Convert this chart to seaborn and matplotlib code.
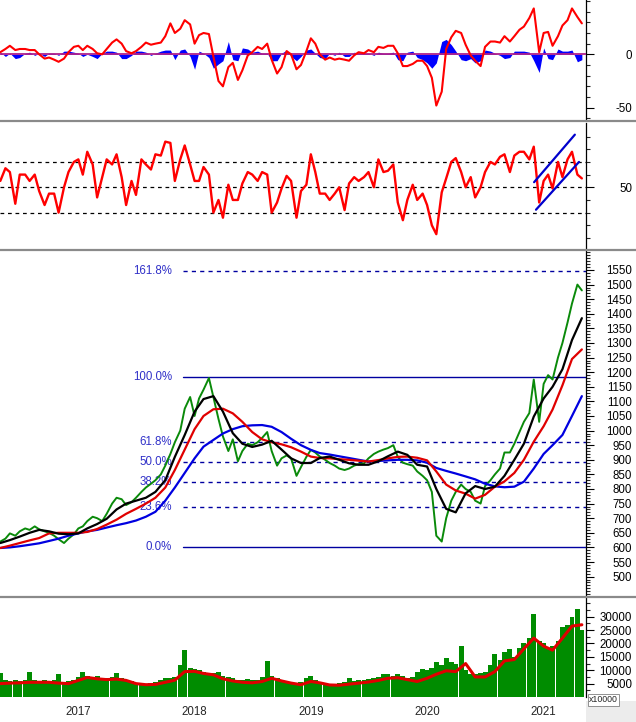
import numpy as np
import pandas as pd
import matplotlib
matplotlib.use('Agg')
import matplotlib.pyplot as plt
import matplotlib.dates as mdates
from matplotlib.ticker import FixedLocator, MultipleLocator, StrMethodFormatter
from matplotlib.lines import Line2D
from matplotlib.patches import Rectangle
from matplotlib.transforms import blended_transform_factory
import seaborn as sns

sns.set_style('white')
plt.rcParams['font.family'] = ['Liberation Sans', 'DejaVu Sans']
plt.rcParams['axes.unicode_minus'] = False

# ---------------- data ----------------
dates = pd.date_range('2016-06-15', '2021-06-15', freq='SMS')   # semi-monthly samples
mdates_ = dates[::2]                                             # monthly samples

close = [620,630,648,640,655,665,660,672,662,655,
         650,640,628,615,630,645,665,672,690,705,
         700,690,715,750,770,765,745,755,770,790,
         805,818,830,850,880,920,960,1000,1075,1115,
         1050,1110,1140,1180,1115,1040,980,930,970,895,
         930,955,950,960,975,995,930,880,905,915,
         905,845,875,910,934,925,911,900,889,880,
         870,865,870,880,885,888,905,920,928,935,
         940,950,910,890,885,880,860,845,830,790,
         640,620,700,760,790,815,800,790,760,750,
         810,830,850,870,925,925,955,995,1030,1060,
         1175,1030,1160,1190,1175,1250,1300,1370,1435,1500,
         1480]

ma_black = [615,625,637,650,660,655,647,645,648,665,
            680,698,730,750,760,770,790,830,910,985,
            1065,1108,1118,1065,991,955,944,952,965,935,
            905,889,889,906,911,900,888,883,883,895,
            912,928,917,883,877,800,732,720,785,810,
            800,808,845,900,955,1048,1110,1150,1210,1310,
            1385]

ma_red = [598,606,615,624,632,648,650,650,650,653,
          663,678,695,715,732,750,770,805,865,935,
          1005,1050,1073,1075,1059,1030,995,970,960,953,
          943,928,911,906,905,902,900,897,894,899,
          905,910,911,907,898,860,815,795,784,767,
          780,808,826,855,900,962,1015,1072,1155,1245,
          1278]

ma_blue = [598,600,604,609,614,622,630,640,648,655,
           660,668,676,683,692,705,722,760,805,855,
           905,945,968,990,1005,1015,1018,1019,1013,995,
           972,950,934,923,918,912,906,900,894,896,
           898,900,900,898,890,872,862,853,843,833,
           818,809,806,808,825,870,920,950,985,1050,
           1118]

macd = [2,5,8,4,5,5,4,4,0,-4,
        -3,-5,-7,-4,2,7,8,4,8,5,
        1,0,5,11,14,10,3,1,3,7,
        11,9,10,11,17,29,20,24,32,28,
        10,18,20,19,-2,-25,-30,-12,-8,-24,
        -15,-1,2,7,5,10,-5,-18,-12,3,
        0,-14,-10,3,15,10,0,-5,-3,-5,
        -4,-5,-6,-1,2,1,4,2,7,6,
        8,8,1,-11,-11,-9,-6,-6,-11,-22,
        -48,-35,5,16,22,20,9,-1,-6,-11,
        7,12,12,11,17,12,17,23,26,34,
        43,2,20,21,8,17,27,32,43,35,
        29]

macd_hist = [2,-2,1,-4,-3,1,2,-1,1,-2,
             1,1,-1,3,3,2,1,-2,0,-2,
             -4,1,3,3,2,-4,-4,-1,3,3,
             2,-1,1,3,4,4,-5,4,5,-2,
             -14,3,1,-3,-13,-9,-6,12,-5,-6,
             6,5,2,3,1,1,-6,-6,1,4,
             -2,-6,-2,4,5,1,-3,-4,1,-1,
             2,-2,-2,2,1,1,1,-1,2,1,
             1,2,-5,-6,2,3,-3,-5,-8,-13,
             -8,12,14,9,3,-5,-6,-4,-8,-6,
             4,3,1,-1,-4,-3,3,3,3,2,
             -6,-17,6,-4,-5,5,3,3,4,-7,
             -5]

rsi = [55,65,62,37,60,60,55,60,47,36,
       45,45,30,50,62,70,72,60,78,68,
       42,58,72,68,76,58,36,55,44,72,
       68,64,76,75,86,85,55,72,83,68,
       55,55,66,60,30,40,26,52,40,40,
       53,62,60,55,62,60,30,38,49,59,
       55,26,47,52,76,62,45,45,40,45,
       50,32,53,58,55,58,62,50,72,62,
       63,68,38,24,40,52,40,45,36,20,
       13,46,57,70,73,62,50,58,42,50,
       62,70,68,74,76,62,75,78,78,72,
       82,38,55,60,49,70,58,72,78,60,
       57]
rsi_levels = [30, 50, 70]
channel_upper_dates = ['2021-01-16', '2021-05-24']
channel_upper = [54, 91.5]
channel_lower_dates = ['2021-01-22', '2021-06-06']
channel_lower = [32.3, 70]

volume = [9000,6500,6000,6500,6000,6200,9500,6200,6000,6300,
          5800,6500,8500,5500,5800,6500,7500,9500,8000,7500,
          8000,7000,7000,7500,9000,7000,6500,6000,5000,5200,
          5000,5300,5500,6500,7000,7200,7500,12000,17500,11000,
          10500,10000,9500,9000,9000,9500,8000,7500,7000,6500,
          6500,6800,6500,6500,7500,13500,8000,7000,6500,6000,
          5500,5000,5500,7000,8000,6500,5500,5000,5000,4800,
          5200,5500,7000,6000,6200,6500,6800,7000,7500,8500,
          8500,8000,8500,8000,7000,7500,9500,10500,10000,11000,
          13000,12000,14500,13000,12500,19000,10000,8500,8500,9000,
          9500,12000,16000,14000,17000,18000,15000,18500,20000,22000,
          31000,21000,20000,18000,19000,21000,26000,27000,30000,33000,
          25000]

vol_ma = [5000,5200,5300,5500,5500,5500,5200,5000,6200,7300,
          6800,6500,6700,6200,5000,4600,4700,5500,6300,9500,
          9600,8800,8300,6800,6000,5500,5300,5800,7000,6000,
          5200,4600,5800,5300,4500,4400,4800,5200,5600,6200,
          7000,7200,6500,5800,7000,8500,9800,9500,12500,7500,
          7500,9500,13500,14000,18000,22000,19000,17500,22000,26500,
          27000]

fib_low, fib_high = 600, 1185
fib_ratios = [0.0, 0.236, 0.382, 0.5, 0.618, 1.0, 1.618]
fib_labels = ['0.0%', '23.6%', '38.2%', '50.0%', '61.8%', '100.0%', '161.8%']
years = [2017, 2018, 2019, 2020, 2021]

# ---------------- layout ----------------
W, H = 636, 722
fig = plt.figure(figsize=(W / 100, H / 100), dpi=100)
fig.patch.set_facecolor('white')
AXR = 586


def make_ax(top, bottom):
    ax = fig.add_axes([0, 1 - bottom / H, AXR / W, (bottom - top) / H])
    ax.set_facecolor('white')
    for s in ['left', 'top', 'bottom']:
        ax.spines[s].set_visible(False)
    ax.spines['right'].set_color('black')
    ax.spines['right'].set_linewidth(0.9)
    ax.yaxis.tick_right()
    ax.set_xlim(pd.Timestamp('2016-06-14'), pd.Timestamp('2021-06-28'))
    return ax


ax1 = make_ax(0, 119)
ax2 = make_ax(123, 248)
ax3 = make_ax(251, 595)
ax4 = make_ax(598, 697)

TL_MAJ = 8 * 0.72
TL_MIN = 4 * 0.72
PAD = (632 - AXR) * 0.72 - TL_MAJ


def style_y(ax, major, minor, fmt=None):
    ax.yaxis.set_major_locator(FixedLocator(major))
    ax.yaxis.set_minor_locator(FixedLocator(minor))
    if fmt:
        ax.yaxis.set_major_formatter(StrMethodFormatter(fmt))
    ax.tick_params(axis='y', which='major', direction='out', length=TL_MAJ, width=0.8,
                   labelsize=8.3, pad=PAD, colors='black')
    ax.tick_params(axis='y', which='minor', direction='out', length=TL_MIN, width=0.8)
    plt.setp(ax.get_yticklabels(), ha='right')


# ---------------- MACD panel ----------------
ax1.fill_between(dates, 0, macd_hist, color='#0000ff', lw=0, zorder=2)
ax1.axhline(0, color='#b0208a', lw=1.3, zorder=3)
sns.lineplot(x=dates, y=macd, ax=ax1, color='#ff0000', lw=1.5, estimator=None, zorder=4)
ax1.set_ylim(-60.6, 50.9)
style_y(ax1, [-50, 0], list(range(-60, 51, 10)))
ax1.set_xticks([])
ax1.set_xlabel('')
ax1.set_ylabel('')

# ---------------- RSI panel ----------------
for lv in rsi_levels:
    ax2.axhline(lv, color='black', lw=0.9, ls=(0, (3, 3)), zorder=1)
sns.lineplot(x=dates, y=rsi, ax=ax2, color='#ff0000', lw=1.7, estimator=None, zorder=3)
ax2.plot(pd.to_datetime(channel_upper_dates), channel_upper, color='#0000cc', lw=1.6, zorder=4)
ax2.plot(pd.to_datetime(channel_lower_dates), channel_lower, color='#0000cc', lw=1.6, zorder=4)
ax2.set_ylim(2.1, 100.7)
style_y(ax2, [50], list(range(10, 100, 10)))
ax2.set_xticks([])
ax2.set_xlabel('')
ax2.set_ylabel('')

# ---------------- Price panel ----------------
fib_x0 = 183 / AXR
tr3 = blended_transform_factory(ax3.transAxes, ax3.transData)
for r, lab in zip(fib_ratios, fib_labels):
    lvl = fib_low + r * (fib_high - fib_low)
    solid = r in (0.0, 1.0)
    ax3.axhline(lvl, xmin=fib_x0, xmax=1, color='#0000a0', lw=1.0,
                ls='-' if solid else (0, (3, 3)), zorder=1)
    ax3.text(172 / AXR, lvl, lab, transform=tr3, ha='right', va='center',
             fontsize=8.3, color='#3030c8', zorder=1)

sns.lineplot(x=dates, y=close, ax=ax3, color='#0a8a0a', lw=1.4, estimator=None, zorder=2)
sns.lineplot(x=mdates_, y=ma_blue, ax=ax3, color='#0000e0', lw=1.6, estimator=None, zorder=3)
sns.lineplot(x=mdates_, y=ma_red, ax=ax3, color='#e00000', lw=1.6, estimator=None, zorder=3.5)
sns.lineplot(x=mdates_, y=ma_black, ax=ax3, color='black', lw=1.6, estimator=None, zorder=4)
ax3.set_ylim(437, 1615)
style_y(ax3, list(range(500, 1551, 50)), list(range(440, 1611, 10)))
ax3.set_xticks([])
ax3.set_xlabel('')
ax3.set_ylabel('')

# ---------------- Volume panel ----------------
ax4.bar(dates, volume, width=15.5, color='#008c00', lw=0, zorder=2)
sns.lineplot(x=mdates_, y=vol_ma, ax=ax4, color='#e00000', lw=2.2, estimator=None, zorder=3)
ax4.set_ylim(0, 37000)
style_y(ax4, list(range(5000, 30001, 5000)), list(range(2500, 37001, 2500)), fmt='{x:.0f}')
ax4.set_xlabel('')
ax4.set_ylabel('')
ax4.xaxis.set_major_locator(mdates.YearLocator())
ax4.xaxis.set_minor_locator(mdates.MonthLocator())
ax4.tick_params(axis='x', which='major', direction='out', length=20 * 0.72, width=0.8,
                labelbottom=False, colors='black')
ax4.tick_params(axis='x', which='minor', direction='out', length=6 * 0.72, width=0.8)
tr4 = blended_transform_factory(ax4.transData, ax4.transAxes)
for yr in years:
    xd = mdates.date2num(pd.Timestamp(f'{yr}-01-01') + pd.Timedelta(days=5))
    ax4.text(xd, -0.155, str(yr), transform=tr4, ha='left', va='center', fontsize=8.3)

# ---------------- frame decorations ----------------
for ypx in [121, 249.5, 596.5]:
    fig.add_artist(Line2D([0, 1], [1 - ypx / H] * 2, transform=fig.transFigure,
                          color='#8a8a8a', lw=1.6))
fig.add_artist(Rectangle((AXR / W, 0), 1 - AXR / W, 21 / H, transform=fig.transFigure,
                         color='#ececec', lw=0, zorder=0))
fig.text(589 / W, 1 - 700 / H, 'x10000', fontsize=6.3, ha='left', va='center',
         bbox=dict(boxstyle='square,pad=0.15', fc='white', ec='#808080', lw=0.6))

fig.savefig('out.png', dpi=100)
